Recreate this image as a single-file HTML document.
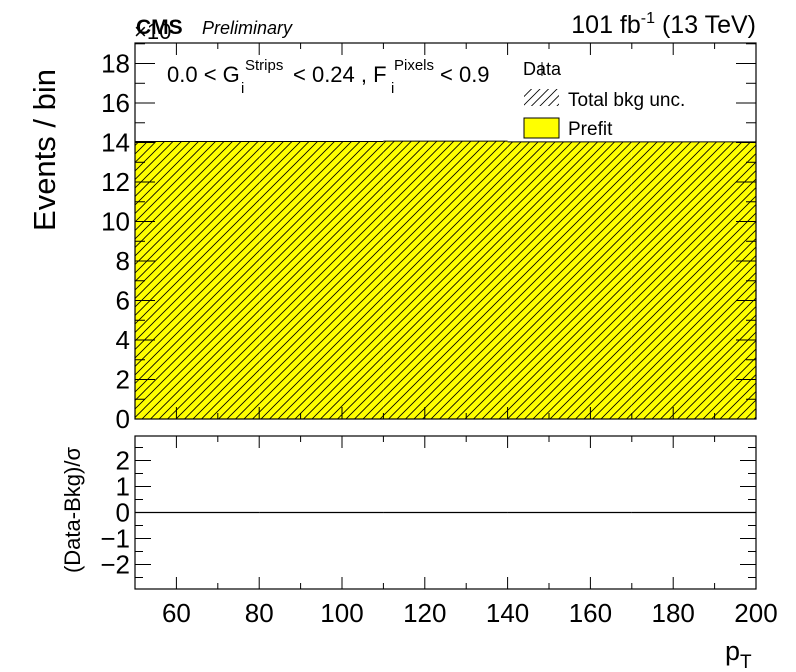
<!DOCTYPE html>
<html><head><meta charset="utf-8"><style>
body{margin:0;background:#fff;}
svg{display:block;font-family:"Liberation Sans",sans-serif;}
</style></head><body>
<svg id="c" width="796" height="672" viewBox="0 0 796 672">
<defs>
<pattern id="hatch" patternUnits="userSpaceOnUse" width="8.5" height="8.5">
<path d="M-1,9.5 L9.5,-1 M-1,1 L1,-1 M7.5,9.5 L9.5,7.5" stroke="#000" stroke-width="0.8"/>
</pattern>
</defs>
<g id="gtop"></g>
<g id="gbot"></g>
<text x="136" y="34" font-size="21" font-weight="bold">CMS</text>
<text x="134" y="39" font-size="22">×10</text>
<text x="202" y="34" font-size="18" font-style="italic">Preliminary</text>
<text x="756" y="33" font-size="25" text-anchor="end">101 fb<tspan dy="-10" font-size="16">-1</tspan><tspan dy="10"> (13 TeV)</tspan></text>
<g font-size="22">
<text x="167" y="82">0.0 &lt; G</text>
<text x="241" y="93" font-size="15">i</text>
<text x="245" y="70" font-size="15">Strips</text>
<text x="293" y="82">&lt; 0.24 , F</text>
<text x="391" y="93" font-size="15">i</text>
<text x="394" y="70" font-size="15">Pixels</text>
<text x="440" y="82">&lt; 0.9</text>
</g>
<g>
<text x="523" y="75" font-size="18">Data</text>
<line x1="542" y1="62" x2="542" y2="76" stroke="#000" stroke-width="1"/>
<rect x="524" y="89" width="35" height="17" fill="url(#hatch)"/>
<text x="568" y="106" font-size="19">Total bkg unc.</text>
<rect x="524" y="118" width="35" height="20" fill="#ffff00" stroke="#000" stroke-width="1"/>
<text x="568" y="135" font-size="19">Prefit</text>
</g>
<text transform="translate(55,150) rotate(-90)" font-size="31" text-anchor="middle">Events / bin</text>
<text transform="translate(80,510) rotate(-90)" font-size="22" text-anchor="middle">(Data-Bkg)/σ</text>
<text x="725" y="660" font-size="27">p<tspan dy="8" font-size="19">T</tspan></text>
</svg>
<script>
const binEdges=[50,80,110,140,170,200];
const prefit=[14.05,14.05,14.07,14.03,14.03];
const pulls=[0,0,0,0,0];
const yTicks=[0,2,4,6,8,10,12,14,16,18];
const rTicks=[-2,-1,0,1,2];
const xTicks=[60,80,100,120,140,160,180,200];

const X0=135,X1=756;
const xs=v=>X0+(v-50)/150*(X1-X0);
const T0=43,T1=419,yMax=19.04;
const ys=v=>T1-v/yMax*(T1-T0);
const B0=436,B1=589;
const ry=v=>512.5-v*26;
const NS='http://www.w3.org/2000/svg';
function mk(p,tag,a){const e=document.createElementNS(NS,tag);for(const k in a)e.setAttribute(k,a[k]);p.appendChild(e);return e;}
const gTop=document.getElementById('gtop'),gBot=document.getElementById('gbot');

prefit.forEach((v,i)=>{
  const r=mk(gTop,'rect',{x:xs(binEdges[i]),y:ys(v),width:xs(binEdges[i+1])-xs(binEdges[i]),height:T1-ys(v),fill:'#ffff00'});
  
  
});
prefit.forEach((v,i)=>{
  const r=mk(gTop,'rect',{x:xs(binEdges[i]),y:ys(v),width:xs(binEdges[i+1])-xs(binEdges[i]),height:T1-ys(v),fill:'url(#hatch)'});
  
  
  mk(gTop,'line',{x1:xs(binEdges[i]),x2:xs(binEdges[i+1]),y1:ys(v),y2:ys(v),stroke:'#000','stroke-width':1});
});
const f1=mk(gTop,'rect',{x:X0,y:T0,width:X1-X0,height:T1-T0,fill:'none',stroke:'#000','stroke-width':1.2});


const f2=mk(gBot,'rect',{x:X0,y:B0,width:X1-X0,height:B1-B0,fill:'none',stroke:'#000','stroke-width':1.2});



for(let v=0;v<=19;v+=1){const maj=v%2===0;const L=maj?20:10;
  mk(gTop,'line',{x1:X0,x2:X0+L,y1:ys(v),y2:ys(v),stroke:'#000'});
  mk(gTop,'line',{x1:X1,x2:X1-L,y1:ys(v),y2:ys(v),stroke:'#000'});}
yTicks.forEach(v=>{const t=mk(gTop,'text',{x:X0-5,y:ys(v)+9,'font-size':26,'text-anchor':'end'});t.textContent=v;
  
  });
for(let v=50;v<=200;v+=10){const maj=(v%20===0);
  mk(gTop,'line',{x1:xs(v),x2:xs(v),y1:T1,y2:T1-(maj?12:6),stroke:'#000'});
  mk(gTop,'line',{x1:xs(v),x2:xs(v),y1:T0,y2:T0+(maj?12:6),stroke:'#000'});
  mk(gBot,'line',{x1:xs(v),x2:xs(v),y1:B1,y2:B1-(maj?12:6),stroke:'#000'});
  mk(gBot,'line',{x1:xs(v),x2:xs(v),y1:B0,y2:B0+(maj?12:6),stroke:'#000'});}
xTicks.forEach(v=>{const t=mk(gBot,'text',{x:xs(v),y:622,'font-size':26,'text-anchor':'middle'});t.textContent=v;
  
  });
for(let v=-2.5;v<=2.5;v+=0.5){const maj=Number.isInteger(v);const L=maj?16:8;
  mk(gBot,'line',{x1:X0,x2:X0+L,y1:ry(v),y2:ry(v),stroke:'#000'});
  mk(gBot,'line',{x1:X1,x2:X1-L,y1:ry(v),y2:ry(v),stroke:'#000'});}
rTicks.forEach(v=>{const t=mk(gBot,'text',{x:X0-5,y:ry(v)+9,'font-size':26,'text-anchor':'end'});t.textContent=v<0?'\u2212'+(-v):v;
  
  });
pulls.forEach((v,i)=>{const l=mk(gBot,'line',{x1:xs(binEdges[i]),x2:xs(binEdges[i+1]),y1:ry(v),y2:ry(v),stroke:'#000','stroke-width':1.2});
  
  });
</script>
</body></html>
